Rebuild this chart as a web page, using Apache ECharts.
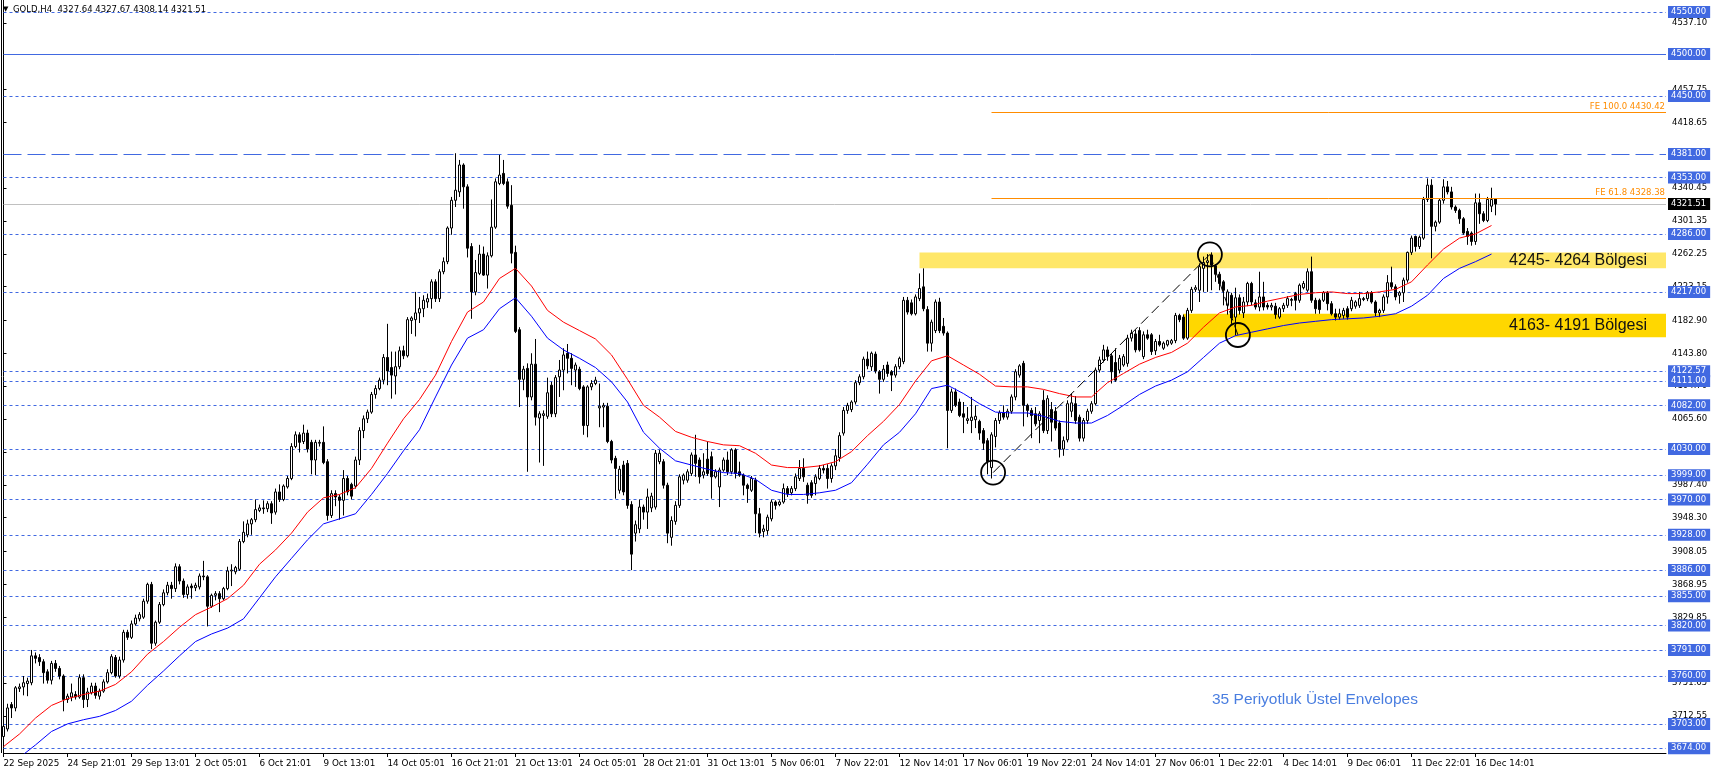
<!DOCTYPE html>
<html><head><meta charset="utf-8">
<script src="https://cdn.jsdelivr.net/npm/echarts@6/dist/echarts.min.js"></script>
<style>html,body{margin:0;padding:0;background:#fff}#c{width:1712px;height:773px}</style>
</head><body><div id="c"></div>
<script>
const chartTitle = 'GOLD,H4';
const lastBarOHLC = [4327.64, 4327.67, 4308.14, 4321.51];
const tickLabels = ['22 Sep 2025','24 Sep 21:01','29 Sep 13:01','2 Oct 05:01','6 Oct 21:01','9 Oct 13:01','14 Oct 05:01','16 Oct 21:01','21 Oct 13:01','24 Oct 05:01','28 Oct 21:01','31 Oct 13:01','5 Nov 06:01','7 Nov 22:01','12 Nov 14:01','17 Nov 06:01','19 Nov 22:01','24 Nov 14:01','27 Nov 06:01','1 Dec 22:01','4 Dec 14:01','9 Dec 06:01','11 Dec 22:01','16 Dec 14:01'];
const barsPerTick = 16;
// [open, close, low, high] per H4 bar
const candles = [
[3688,3700,3680,3704],[3697,3722,3694,3727],[3726,3722,3710,3729],[3722,3746,3718,3748],[3745,3747,3741,3751],
[3747,3752,3737,3760],[3751,3754,3736,3758],[3752,3784,3749,3791],[3784,3781,3775,3788],[3782,3777,3772,3786],
[3777,3764,3751,3780],[3765,3755,3751,3768],[3755,3775,3750,3778],[3775,3769,3765,3779],[3769,3760,3756,3772],
[3760,3732,3718,3762],[3732,3736,3728,3739],[3735,3740,3730,3751],[3738,3735,3732,3742],[3735,3758,3733,3762],
[3758,3732,3722,3762],[3732,3741,3723,3746],[3740,3748,3738,3752],[3748,3737,3733,3752],[3736,3742,3732,3745],
[3742,3753,3740,3756],[3753,3764,3751,3768],[3764,3783,3762,3786],[3782,3760,3758,3785],[3760,3779,3757,3783],
[3779,3812,3776,3815],[3812,3806,3803,3815],[3806,3822,3804,3826],[3822,3829,3820,3833],[3828,3833,3825,3836],
[3830,3849,3828,3852],[3849,3869,3846,3871],[3869,3799,3792,3872],[3799,3824,3796,3826],[3824,3845,3822,3848],
[3845,3859,3843,3863],[3859,3868,3856,3872],[3868,3864,3852,3872],[3864,3890,3860,3894],[3890,3873,3869,3893],
[3873,3857,3853,3876],[3857,3866,3852,3869],[3867,3865,3852,3870],[3865,3868,3861,3871],[3866,3879,3863,3882],
[3879,3878,3874,3897],[3878,3843,3819,3880],[3843,3856,3841,3858],[3856,3858,3850,3861],[3858,3852,3836,3861],
[3852,3864,3850,3866],[3864,3885,3862,3890],[3885,3886,3867,3893],[3884,3889,3881,3891],[3887,3920,3885,3923],
[3920,3931,3918,3944],[3928,3941,3925,3946],[3941,3946,3928,3948],[3946,3958,3943,3970],[3957,3960,3955,3964],
[3960,3959,3953,3969],[3959,3965,3955,3968],[3965,3954,3941,3968],[3955,3979,3952,3983],[3979,3970,3967,3988],
[3970,3986,3968,3988],[3985,3995,3983,3998],[3995,4033,3993,4037],[4033,4047,4031,4051],[4047,4038,4026,4050],
[4039,4049,4036,4059],[4049,4030,4026,4053],[4038,4017,4000,4041],[4017,4038,3999,4041],[4037,4038,4033,4041],
[4038,4014,4012,4057],[4015,3951,3945,4018],[3951,3977,3948,3981],[3977,3973,3962,3981],[3973,3969,3946,3976],
[3969,3995,3951,4005],[3995,3979,3975,3998],[3988,3974,3970,3990],[3986,4017,3983,4021],[4017,4052,4011,4056],
[4052,4066,4043,4070],[4066,4074,4061,4077],[4074,4095,4072,4098],[4095,4102,4090,4106],[4102,4112,4100,4115],
[4112,4139,4107,4143],[4139,4123,4106,4179],[4127,4118,4090,4146],[4117,4128,4095,4146],[4128,4147,4125,4152],
[4147,4141,4137,4153],[4141,4184,4139,4187],[4183,4186,4167,4188],[4184,4192,4164,4217],[4192,4197,4180,4211],
[4197,4207,4187,4213],[4205,4209,4198,4215],[4209,4229,4197,4232],[4229,4209,4205,4232],[4209,4241,4205,4244],
[4241,4253,4238,4258],[4253,4293,4250,4295],[4293,4326,4285,4330],[4326,4338,4318,4382],[4336,4368,4330,4374],
[4368,4342,4316,4370],[4342,4269,4258,4345],[4271,4217,4185,4275],[4217,4240,4213,4255],[4239,4262,4237,4273],
[4262,4237,4236,4271],[4237,4260,4221,4264],[4260,4294,4258,4327],[4294,4348,4292,4352],[4346,4356,4344,4380],
[4358,4346,4344,4374],[4348,4319,4316,4352],[4320,4263,4251,4344],[4264,4170,4168,4272],[4172,4113,4080,4175],
[4113,4125,4100,4129],[4126,4092,4003,4132],[4092,4131,4088,4144],[4131,4068,4058,4161],[4067,4072,4014,4075],
[4070,4072,4010,4076],[4069,4097,4066,4115],[4106,4072,4068,4110],[4072,4115,4068,4118],[4116,4124,4092,4136],
[4124,4142,4100,4150],[4144,4138,4120,4155],[4138,4126,4106,4144],[4124,4130,4104,4133],[4125,4102,4100,4128],
[4104,4058,4047,4106],[4058,4104,4044,4106],[4104,4108,4100,4112],[4108,4112,4106,4116],[4079,4081,4056,4108],
[4080,4082,4056,4085],[4081,4039,4037,4085],[4039,4017,4013,4041],[4019,4007,3971,4022],[3981,4006,3977,4010],
[4011,3979,3975,4016],[4013,3963,3959,4017],[3964,3905,3886,3968],[3930,3940,3920,3945],[3935,3961,3930,3970],
[3961,3955,3946,3964],[3955,3973,3935,3983],[3960,3974,3955,3978],[3961,4025,3958,4029],[4015,4025,4012,4029],
[4015,3987,3983,4018],[3987,3930,3918,3990],[3925,3945,3915,3950],[3944,3963,3940,3968],[3963,3997,3960,4000],
[3993,3999,3988,4001],[3993,4003,3990,4006],[4001,4023,3998,4026],[4023,4013,3997,4047],[4017,3997,3989,4020],
[3999,4003,3995,4025],[4018,4001,3998,4039],[4021,3997,3971,4027],[3997,4003,3995,4006],[3985,4005,3961,4008],
[4005,4017,4003,4020],[4017,4003,3999,4027],[4003,4029,4000,4031],[4029,4001,3995,4031],[4003,3999,3997,4015],
[3999,3987,3975,4001],[3987,3983,3966,3989],[3981,3995,3979,3998],[3993,3953,3930,3996],[3953,3930,3925,3960],
[3932,3935,3925,3940],[3933,3949,3928,3952],[3947,3967,3944,3970],[3967,3963,3958,3969],[3964,3967,3962,3969],
[3967,3983,3965,3989],[3983,3977,3973,3986],[3978,3983,3975,3986],[3983,3997,3980,4001],[3995,4007,3992,4017],
[4007,3997,3991,4019],[3987,3975,3965,3990],[3990,3975,3972,3993],[3989,3997,3975,4000],[3995,4007,3993,4011],
[4007,4005,4001,4011],[4007,3995,3983,4012],[3995,4010,3990,4013],[4010,4022,4005,4030],[4020,4046,4015,4050],
[4049,4076,4046,4080],[4076,4082,4072,4085],[4077,4086,4074,4088],[4086,4109,4083,4112],[4109,4116,4106,4119],
[4116,4137,4113,4140],[4137,4129,4125,4146],[4128,4144,4123,4146],[4143,4123,4120,4146],[4122,4113,4096,4124],
[4113,4125,4110,4130],[4130,4120,4116,4134],[4122,4118,4099,4124],[4118,4128,4115,4131],[4128,4138,4125,4140],
[4134,4207,4131,4211],[4207,4193,4190,4211],[4204,4191,4189,4208],[4191,4211,4189,4214],[4209,4221,4206,4239],
[4223,4197,4194,4245],[4196,4156,4146,4200],[4156,4181,4146,4184],[4171,4205,4168,4208],[4205,4171,4168,4210],
[4176,4168,4165,4186],[4168,4076,4031,4170],[4076,4098,4073,4102],[4098,4082,4080,4102],[4086,4070,4068,4090],
[4072,4068,4049,4086],[4064,4066,4060,4080],[4064,4068,4049,4092],[4065,4069,4055,4082],[4063,4049,4041,4065],
[4052,4037,4029,4055],[4040,4015,4000,4043],[4008,4047,3995,4050],[4045,4064,4032,4067],[4064,4073,4060,4076],
[4073,4068,4065,4082],[4068,4075,4065,4078],[4075,4092,4072,4095],[4092,4122,4088,4125],[4118,4129,4115,4131],
[4132,4082,4057,4135],[4082,4076,4068,4084],[4076,4070,4043,4079],[4072,4060,4057,4080],[4064,4072,4037,4075],
[4088,4052,4049,4100],[4052,4090,4048,4094],[4077,4062,4039,4086],[4075,4055,4052,4080],[4061,4030,4020,4064],
[4030,4040,4022,4045],[4041,4084,4038,4088],[4075,4085,4068,4096],[4084,4064,4060,4093],[4068,4043,4039,4071],
[4043,4064,4039,4067],[4064,4075,4060,4078],[4075,4084,4072,4087],[4084,4124,4082,4127],[4124,4136,4121,4140],
[4136,4148,4133,4154],[4148,4140,4135,4152],[4141,4122,4108,4144],[4133,4112,4110,4150],[4124,4138,4120,4142],
[4130,4140,4128,4143],[4132,4162,4128,4166],[4162,4168,4158,4172],[4167,4148,4145,4172],[4171,4148,4146,4175],
[4140,4166,4137,4170],[4166,4162,4160,4172],[4166,4146,4142,4168],[4147,4158,4142,4161],[4158,4154,4152,4166],
[4150,4156,4148,4158],[4154,4159,4152,4160],[4156,4159,4154,4161],[4159,4189,4156,4192],[4189,4184,4181,4191],
[4187,4162,4160,4190],[4162,4195,4160,4198],[4195,4220,4192,4223],[4220,4222,4217,4225],[4219,4247,4205,4251],
[4245,4252,4217,4259],[4252,4254,4217,4262],[4261,4249,4219,4264],[4248,4238,4229,4250],[4238,4227,4219,4241],
[4229,4219,4201,4231],[4201,4217,4190,4220],[4213,4186,4179,4216],[4187,4210,4165,4222],[4210,4195,4190,4214],
[4192,4205,4186,4211],[4205,4227,4200,4229],[4227,4205,4201,4229],[4204,4199,4196,4208],[4199,4211,4194,4241],
[4211,4199,4195,4229],[4201,4199,4196,4204],[4199,4201,4195,4204],[4200,4190,4185,4204],[4187,4197,4185,4199],
[4197,4201,4193,4204],[4201,4209,4198,4212],[4208,4207,4200,4210],[4215,4207,4195,4217],[4207,4225,4204,4227],
[4222,4227,4220,4230],[4219,4241,4217,4245],[4241,4207,4204,4259],[4207,4197,4191,4210],[4207,4196,4191,4209],
[4207,4216,4205,4218],[4216,4203,4195,4218],[4203,4191,4189,4206],[4191,4187,4183,4197],[4187,4191,4184,4197],
[4189,4195,4185,4198],[4197,4187,4184,4200],[4197,4207,4194,4211],[4200,4205,4197,4207],[4201,4209,4198,4217],
[4209,4208,4206,4211],[4209,4216,4206,4218],[4216,4205,4203,4218],[4205,4192,4188,4207],[4192,4195,4187,4197],
[4195,4211,4192,4214],[4211,4228,4203,4237],[4228,4223,4220,4247],[4223,4211,4207,4226],[4213,4216,4203,4218],
[4216,4231,4205,4234],[4231,4264,4228,4265],[4264,4281,4261,4284],[4283,4271,4265,4284],[4271,4282,4268,4284],
[4281,4327,4279,4330],[4327,4344,4324,4352],[4344,4295,4257,4351],[4295,4300,4289,4302],[4300,4326,4298,4328],
[4326,4342,4322,4351],[4342,4336,4333,4349],[4336,4318,4315,4342],[4318,4314,4311,4320],[4314,4304,4298,4316],
[4304,4287,4285,4306],[4289,4283,4273,4293],[4287,4277,4272,4289],[4277,4323,4273,4334],[4323,4310,4298,4334],
[4310,4302,4300,4313],[4302,4327,4300,4330],[4319,4327,4312,4341],[4327.64,4321.51,4308.14,4327.67]
];
// 35-period exponential envelopes, read every 4 bars
const envStep = 4;
const upperEnv = [3676,3691,3710,3725,3733,3738,3742,3750,3765,3786,3801,3818,3833,3842,3852,3868,3893,3910,3930,3955,
3972,3976,3984,4007,4037,4066,4089,4118,4158,4193,4205,4233,4245,4224,4195,4181,4171,4161,4142,4113,
4082,4068,4051,4044,4039,4035,4034,4025,4011,4008,4008,4010,4015,4027,4046,4063,4083,4111,4135,4141,
4130,4119,4105,4104,4104,4101,4096,4092,4092,4109,4120,4131,4139,4145,4156,4175,4192,4199,4201,4206,
4210,4214,4216,4217,4215,4215,4217,4220,4229,4249,4268,4281,4286,4296];
const lowerEnv = [3652,3663,3678,3694,3703,3708,3712,3719,3730,3749,3766,3784,3801,3810,3817,3828,3853,3878,3900,3922,
3941,3947,3953,3976,4001,4028,4053,4092,4130,4162,4172,4197,4210,4188,4162,4148,4138,4127,4110,4086,
4050,4031,4016,4011,4006,4002,4001,3994,3981,3976,3976,3978,3981,3990,4012,4035,4050,4072,4102,4106,
4096,4084,4074,4073,4073,4069,4063,4061,4061,4070,4082,4095,4105,4112,4122,4139,4156,4165,4169,4173,
4177,4180,4182,4184,4185,4186,4188,4191,4200,4213,4233,4245,4253,4262];
const dottedLevels = [4550,4450,4353,4286,4217,4122.57,4111,4082,4030,3999,3970,3928,3886,3855,3820,3791,3760,3703,3674];
const solidLevels = [4500];
const dashedLevels = [4381];
const bidPrice = 4321.51;
const feNames = ['FE 100.0','FE 61.8'];
const feValues = [4430.42, 4328.38];
const feStartBar = 247;
const zoneBounds = [[4245,4264],[4163,4191]];
const zoneStartBars = [229, 294.9];
const zoneLabels = ['4245- 4264 Bölgesi','4163- 4191 Bölgesi'];
const swingPoints = [[247.4,4002],[301.6,4261.6],[308.6,4165.7]];
const priceTicks = [4537.10,4457.75,4418.65,4340.45,4301.35,4262.25,4223.15,4182.90,4143.80,4104.70,4065.60,4026.50,3987.40,3948.30,3908.05,3868.95,3829.85,3790.75,3751.65,3712.55];
const envNote = '35 Periyotluk Üstel Envelopes';

const X_MAX = 415.625, Y_MIN = 3668.4, Y_MAX = 4564.3;
const LVL = '#4169E1';
const AXF = 'DejaVu Sans';
const chart = echarts.init(document.getElementById('c'), null, {renderer: 'canvas'});
const tickBars = tickLabels.map((_, k) => k * barsPerTick);
const boxLabel = (bg) => ({show: true, position: 'end', distance: 2, formatter: p => Number(p.value).toFixed(2),
  color: '#fff', backgroundColor: bg, padding: [2, 4, 1, 3], fontFamily: AXF, fontSize: 8.5});

const levelData = [
  ...dottedLevels.map(v => ({yAxis: v, lineStyle: {type: [3, 3], color: LVL}})),
  ...solidLevels.map(v => ({yAxis: v, lineStyle: {type: 'solid', color: LVL}})),
  ...dashedLevels.map(v => ({yAxis: v, lineStyle: {type: [18, 6], color: LVL}})),
  {yAxis: bidPrice, lineStyle: {type: 'solid', color: '#C0C0C0'}, label: boxLabel('#000')}
];

chart.setOption({
  animation: false,
  backgroundColor: '#fff',
  grid: {left: 3.5, right: 46, top: 0, bottom: 20},
  xAxis: {
    type: 'value', min: 0, max: X_MAX, splitLine: {show: false},
    axisLine: {show: true, onZero: false, lineStyle: {color: '#000', width: 1}},
    axisTick: {show: true, length: 4, customValues: tickBars, lineStyle: {color: '#000'}},
    axisLabel: {customValues: tickBars, formatter: v => tickLabels[Math.round(v / barsPerTick)] || '',
      align: 'left', margin: 6, color: '#000', fontFamily: AXF, fontSize: 8.8}
  },
  yAxis: {
    type: 'value', position: 'right', min: Y_MIN, max: Y_MAX, scale: true, splitLine: {show: false},
    axisLine: {show: true, lineStyle: {color: '#000', width: 1}},
    axisTick: {show: true, length: 3, customValues: priceTicks, lineStyle: {color: '#000'}},
    axisLabel: {customValues: priceTicks, formatter: v => v.toFixed(2), margin: 6, color: '#000', fontFamily: AXF, fontSize: 8.5}
  },
  series: [
    {
      type: 'line', name: 'zones', data: [], silent: true,
      markArea: {
        silent: true, z: 1,
        data: zoneBounds.map((b, k) => [
          {coord: [zoneStartBars[k], b[1]], itemStyle: {color: k === 0 ? '#FFE768' : '#FFD700'},
           label: {show: true, position: 'insideRight', distance: 19, formatter: zoneLabels[k],
             color: '#111', fontFamily: 'Liberation Sans', fontSize: 16}},
          {coord: [X_MAX, b[0]]}
        ])
      }
    },
    {
      type: 'line', name: 'levels', data: [], silent: true,
      markLine: {silent: true, z: 2, symbol: ['none', 'none'], lineStyle: {width: 1},
        label: boxLabel(LVL), data: levelData}
    },
    {
      type: 'candlestick', name: 'GOLD', z: 3, clip: false,
      data: candles.map((c, i) => [i, c[0], c[1], c[2], c[3]]),
      encode: {x: 0, y: [1, 2, 3, 4]},
      barWidth: 2,
      itemStyle: {color: '#fff', color0: '#000', borderColor: '#000', borderColor0: '#000', borderWidth: 1}
    },
    {
      type: 'line', name: 'upper', z: 4, showSymbol: false, symbol: 'none', silent: true,
      data: upperEnv.map((v, k) => [k * envStep, v]), lineStyle: {color: '#FF0000', width: 1}
    },
    {
      type: 'line', name: 'lower', z: 4, showSymbol: false, symbol: 'none', silent: true,
      data: lowerEnv.map((v, k) => [k * envStep, v]), lineStyle: {color: '#0000FF', width: 1}
    },
    {
      type: 'line', name: 'fib', data: [], silent: true, z: 5,
      markLine: {
        silent: true, z: 5, symbol: ['none', 'none'],
        data: [
          ...feValues.map((v, k) => [
            {coord: [feStartBar, v], lineStyle: {color: '#FF8C00', type: 'solid', width: 1},
             label: {show: true, position: 'insideEndTop', distance: 1, formatter: feNames[k] + ' ' + v.toFixed(2),
               color: '#FF8C00', fontFamily: AXF, fontSize: 8.5}},
            {coord: [X_MAX, v]}
          ]),
          [{coord: swingPoints[0], lineStyle: {color: '#000', type: [10, 5], width: 1}, label: {show: false}}, {coord: swingPoints[1]}],
          [{coord: swingPoints[1], lineStyle: {color: '#000', type: [10, 5], width: 1}, label: {show: false}}, {coord: swingPoints[2]}]
        ]
      },
      markPoint: {
        silent: true, z: 5, symbol: 'circle', symbolSize: 24,
        itemStyle: {color: 'rgba(0,0,0,0)', borderColor: '#000', borderWidth: 1.8},
        label: {show: false},
        data: swingPoints.map(p => ({coord: p}))
      }
    }
  ],
  graphic: [
    {type: 'line', shape: {x1: 1.5, y1: 0, x2: 1.5, y2: 753}, style: {stroke: '#000', lineWidth: 1}, z: 10},
    {type: 'text', left: 3, top: 6, z: 10, style: {text: '▼', fill: '#000', font: '7px DejaVu Sans'}},
    {type: 'text', left: 13, top: 5, z: 10, style: {text: chartTitle + '  ' + lastBarOHLC.map(v => v.toFixed(2)).join(' '), fill: '#000', font: '8.5px DejaVu Sans'}},
    {type: 'text', left: 1212, top: 692, z: 10, style: {text: envNote, fill: '#4A7EE0', font: '15.5px Liberation Sans'}}
  ]
});
</script>
</body></html>
